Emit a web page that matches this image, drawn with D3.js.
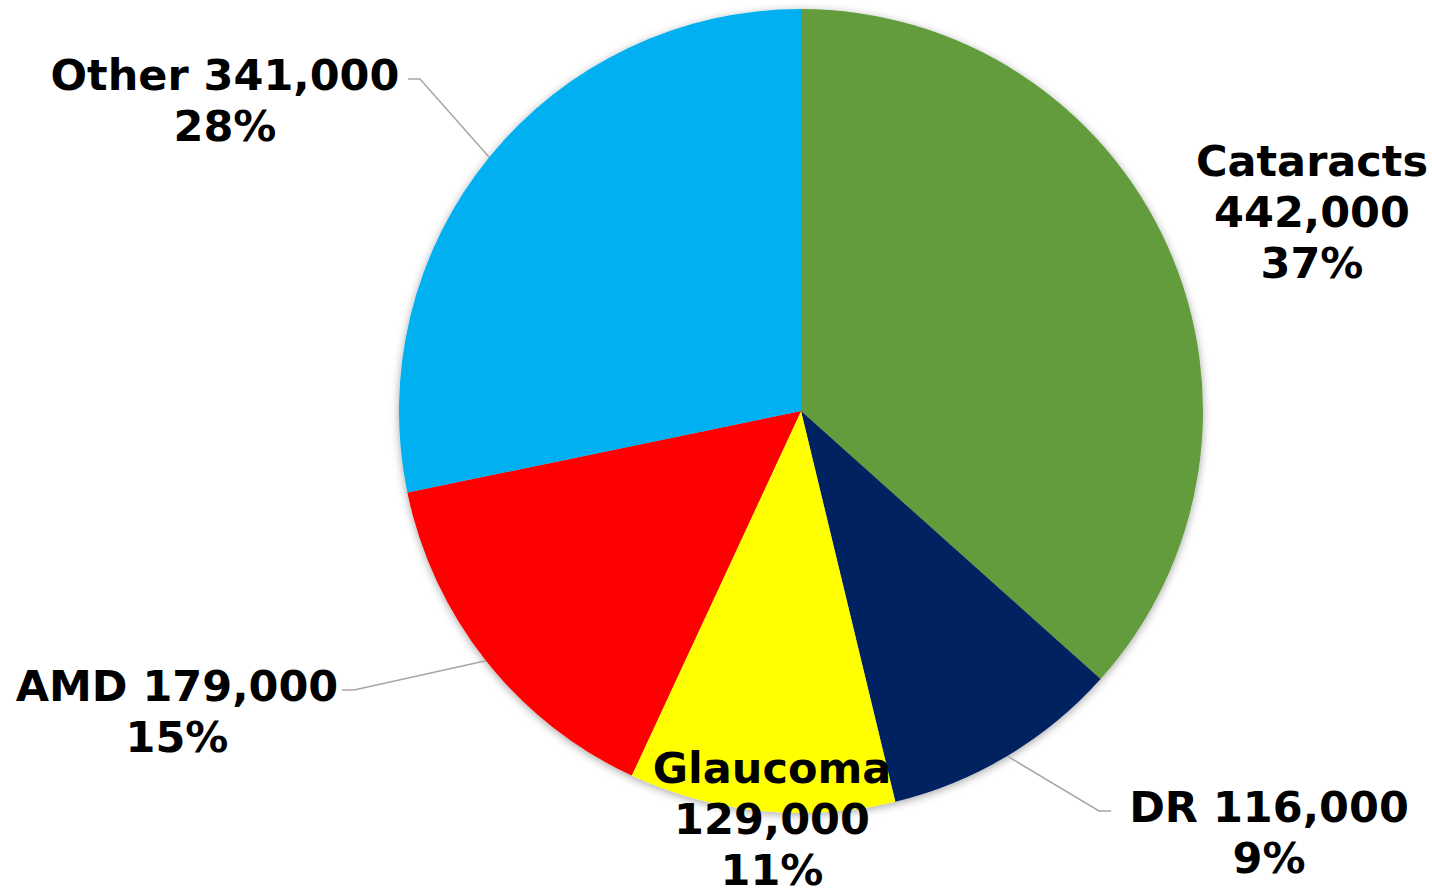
<!DOCTYPE html>
<html>
<head>
<meta charset="utf-8">
<script src="https://cdn.jsdelivr.net/npm/d3@7"></script>
<style>
  body { margin: 0; background: #fff; }
  svg text { font-family: "DejaVu Sans", Verdana, sans-serif; font-weight: bold; font-size: 43px; fill: #000; }
</style>
</head>
<body>
<svg id="chart" width="1432" height="890"></svg>
<script>
const categories = ["Cataracts", "DR", "Glaucoma", "AMD", "Other"];
const values = [442000, 116000, 129000, 179000, 341000];
const percentLabels = ["37%", "9%", "11%", "15%", "28%"];
const colors = ["#629c3c", "#002060", "#ffff00", "#ff0000", "#00b0f0"];

const width = 1432, height = 890;
const cx = 801, cy = 411, radius = 402;

const svg = d3.select("#chart");

let defs = svg.append("defs");
let shadow = defs.append("filter").attr("id", "shadow")
    .attr("x", "-10%").attr("y", "-10%").attr("width", "120%").attr("height", "120%");
shadow.append("feDropShadow")
    .attr("dx", 0).attr("dy", 2)
    .attr("stdDeviation", 4)
    .attr("flood-color", "#000").attr("flood-opacity", 0.35);

const data = categories.map((c, i) => ({name: c, value: values[i], pct: percentLabels[i], color: colors[i]}));

const pie = d3.pie().sort(null).value(d => d.value);
const arcs = pie(data);
const arc = d3.arc().innerRadius(0).outerRadius(radius);

const g = svg.append("g").attr("transform", `translate(${cx},${cy})`);

g.append("g").attr("filter", "url(#shadow)")
  .selectAll("path")
  .data(arcs)
  .join("path")
    .attr("d", arc)
    .attr("fill", d => d.data.color);

// label layout: text anchor (center) and the lines of each label, relative to pie centre
const fmt = d3.format(",");
const labelLayout = {
    "Cataracts": {x: 511, y: -235, lines: d => [d.name, fmt(d.value), d.pct]},
    "DR":        {x: 468, y: 411,  lines: d => [d.name + " " + fmt(d.value), d.pct], leader: {x: 310, side: -1}},
    "Glaucoma":  {x: -29, y: 372,  lines: d => [d.name, fmt(d.value), d.pct]},
    "AMD":       {x: -624, y: 290, lines: d => [d.name + " " + fmt(d.value), d.pct], leader: {x: -459, side: 1}},
    "Other":     {x: -576, y: -321, lines: d => [d.name + " " + fmt(d.value), d.pct], leader: {x: -393, side: 1}}
};
const lineH = 51;

// leader lines from the slice edge at mid angle
arcs.forEach(a => {
    let lay = labelLayout[a.data.name];
    if (!lay.leader) return;
    let mid = (a.startAngle + a.endAngle) / 2;
    let ex = radius * Math.sin(mid), ey = -radius * Math.cos(mid);
    let ly = lay.y - 11;
    let bend = lay.leader.x + lay.leader.side * 12;
    g.append("polyline")
        .attr("points", [[lay.leader.x, ly], [bend, ly], [ex, ey]].map(p => p.join(",")).join(" "))
        .attr("fill", "none")
        .attr("stroke", "#a6a6a6")
        .attr("stroke-width", 1.5);
});

arcs.forEach(a => {
    let lay = labelLayout[a.data.name];
    let t = g.append("text").attr("text-anchor", "middle");
    lay.lines(a.data).forEach((s, i) => {
        t.append("tspan").attr("x", lay.x).attr("y", lay.y + i * lineH).text(s);
    });
});
</script>
</body>
</html>
